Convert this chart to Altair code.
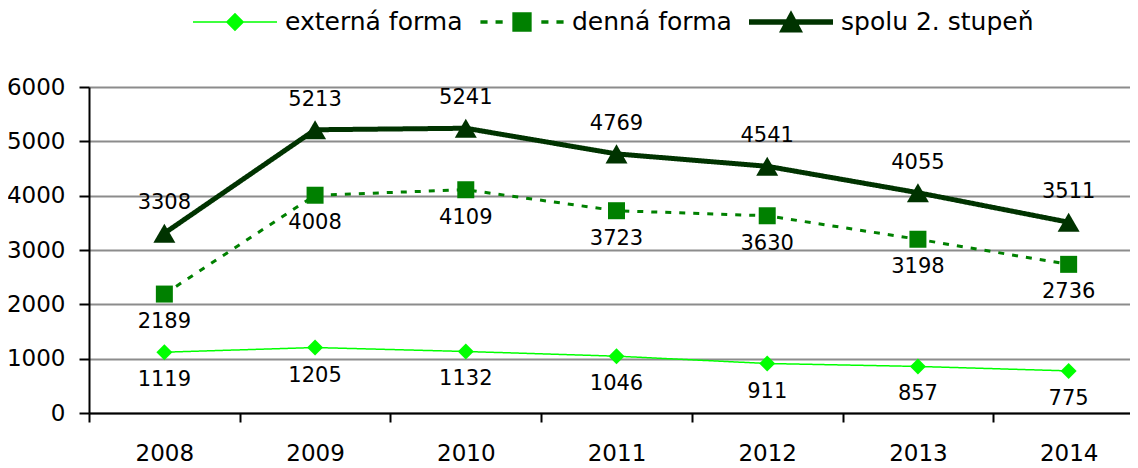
import altair as alt
import pandas as pd

years = ["2008", "2009", "2010", "2011", "2012", "2013", "2014"]
externa = [1119, 1205, 1132, 1046, 911, 857, 775]
denna = [2189, 4008, 4109, 3723, 3630, 3198, 2736]
spolu = [3308, 5213, 5241, 4769, 4541, 4055, 3511]
series_names = ["externá forma", "denná forma", "spolu 2. stupeň"]
colors = ["#00FF00", "#008000", "#003300"]

rows = []
for name, vals in zip(series_names, [externa, denna, spolu]):
    for yr, v in zip(years, vals):
        rows.append({"rok": yr, "seria": name, "hodnota": v})
df = pd.DataFrame(rows)

FONT = "DejaVu Sans"

x = alt.X(
    "rok:N",
    sort=years,
    scale=alt.Scale(type="band", domain=years, range=[0, 1055], paddingInner=0, paddingOuter=0),
    axis=alt.Axis(
        title=None, labelAngle=0, tickBand="extent", grid=False,
        domainColor="black", domainWidth=2, tickColor="black", tickWidth=2, tickSize=9,
        labelFontSize=23, labelPadding=20, labelFont=FONT, labelColor="black",
    ),
)
y = alt.Y(
    "hodnota:Q",
    scale=alt.Scale(domain=[0, 6000], nice=False),
    axis=alt.Axis(
        title=None, values=list(range(0, 7000, 1000)), grid=True, format="d",
        gridColor="#8c8c8c", gridWidth=2, domainColor="black", domainWidth=2,
        tickColor="black", tickWidth=2, tickSize=10, labelPadding=14,
        labelFontSize=23, labelFont=FONT, labelColor="black", labelFlush=False,
    ),
)

styles = {
    "externá forma": dict(width=1.5, dash=[1, 0], shape="diamond", size=256, dy=28),
    "denná forma": dict(width=3, dash=[6, 8], shape="square", size=289, dy=28),
    "spolu 2. stupeň": dict(width=5, dash=[1, 0], shape="triangle-up", size=484, dy=-30),
}

lines, points, texts = [], [], []
for name, col in zip(series_names, colors):
    st = styles[name]
    base = alt.Chart(df).transform_filter(alt.datum.seria == name)
    lines.append(
        base.mark_line(color=col, strokeWidth=st["width"], strokeDash=st["dash"]).encode(x=x, y=y)
    )
    points.append(
        base.mark_point(filled=True, opacity=1, shape=st["shape"], size=st["size"], color=col,
                        strokeWidth=0).encode(x=x, y=y)
    )
    texts.append(
        base.mark_text(dy=st["dy"], fontSize=21, font=FONT, color="black").encode(
            x=x, y=y, text=alt.Text("hodnota:Q", format="d")
        )
    )

legend_paths = [
    "M-1,-0.02H1V0.02H-1Z M0,-0.22L0.22,0L0,0.22L-0.22,0Z",
    "M-0.99,-0.042H-0.82V0.042H-0.99Z M-0.63,-0.042H-0.46V0.042H-0.63Z "
    "M-0.23,-0.23H0.23V0.23H-0.23Z M0.46,-0.042H0.63V0.042H0.46Z M0.82,-0.042H0.99V0.042H0.82Z",
    "M-1,-0.065H1V0.065H-1Z M0,-0.28L0.286,0.25L-0.286,0.25Z",
]

leg = alt.Legend(
    title=None, orient="none", legendX=104, legendY=-107, direction="horizontal",
    columns=3, columnPadding=17, labelFontSize=25, labelFont=FONT, labelColor="black",
    labelLimit=400, symbolSize=7056, symbolStrokeWidth=0, labelOffset=8, padding=0,
    symbolOpacity=1,
)
legend_layer = alt.Chart(df).transform_filter("false").mark_point(
    filled=True, opacity=1, size=7056, strokeWidth=0
).encode(
    color=alt.Color("seria:N", scale=alt.Scale(domain=series_names, range=colors), legend=leg),
    shape=alt.Shape("seria:N", scale=alt.Scale(domain=series_names, range=legend_paths), legend=leg),
)

chart = alt.layer(*lines, *points, *texts, legend_layer).properties(
    width=1040, height=326,
    autosize=alt.AutoSizeParams(type="none"),
    padding={"left": 81, "top": 79, "right": 1, "bottom": 60},
    background="white",
).configure_view(stroke=None)

chart.save("out.html", embed_options={"renderer": "svg", "actions": False})
